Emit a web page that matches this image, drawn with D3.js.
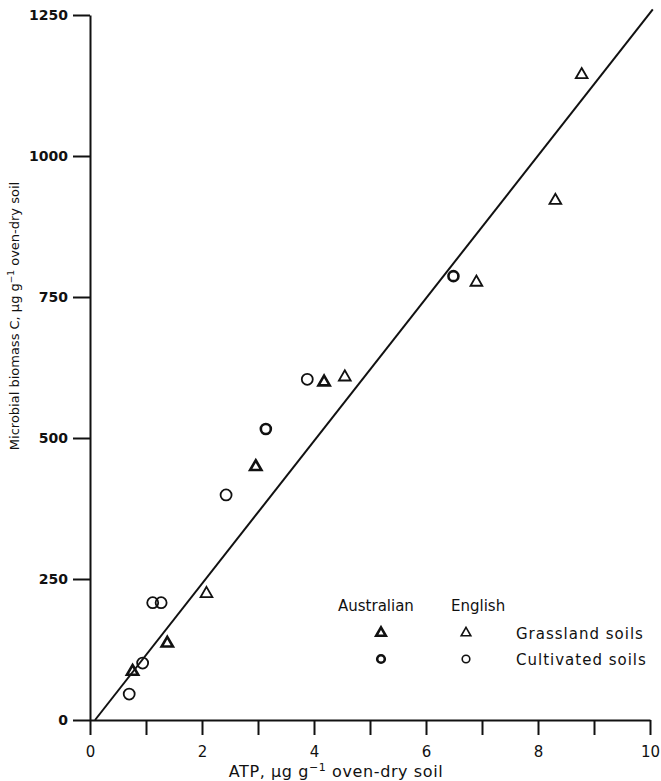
<!DOCTYPE html>
<html>
<head>
<meta charset="utf-8">
<script src="https://d3js.org/d3.v7.min.js"></script>
<style>
  body { margin: 0; background: #fff; }
  text { font-family: "DejaVu Sans", sans-serif; fill: #111; }
</style>
</head>
<body>
<div id="chart"></div>
<script>
// values (ATP ug/g, biomass C ug/g)
var ausGrass = [[0.76, 86], [1.38, 136], [2.96, 449], [4.18, 599]];
var engGrass = [[2.08, 224], [4.55, 608], [6.90, 776], [8.31, 921], [8.78, 1144]];
var ausCult = [[3.14, 516], [6.49, 787]];
var engCult = [[0.70, 46], [0.94, 101], [1.12, 208], [1.27, 208], [2.43, 399], [3.88, 604]];
var fitLine = [[0.09, 0], [10.05, 1260]];

var xTicks = [0, 1, 2, 3, 4, 5, 6, 7, 8, 9, 10];
var yTicks = [0, 250, 500, 750, 1000, 1250];

var w = 661, h = 781;
var x = d3.scaleLinear().domain([0, 10]).range([90, 650]);
var y = d3.scaleLinear().domain([0, 1250]).range([720, 15]);

var svg = d3.select('#chart').append('svg').attr('width', w).attr('height', h);

// axes
var xAxis = d3.axisBottom(x).tickValues(xTicks).tickSize(15).tickSizeOuter(0).tickPadding(11)
    .tickFormat(function (d) { return d % 2 == 0 ? d : ''; });
var gx = svg.append('g').attr('transform', 'translate(0,' + y(0) + ')').call(xAxis);
gx.selectAll('text').style('font-size', '15px');

var yAxis = d3.axisLeft(y).tickValues(yTicks).tickSize(17).tickSizeOuter(0).tickPadding(5)
    .tickFormat(d3.format('d'));
var gy = svg.append('g').attr('transform', 'translate(' + x(0) + ',0)').call(yAxis);
gy.selectAll('text').style('font-size', '14px').style('font-weight', 'bold');

svg.selectAll('.domain, .tick line').attr('stroke', '#111').attr('stroke-width', 2);

// axis titles
svg.append('text').attr('x', 336).attr('y', 777).attr('text-anchor', 'middle')
    .style('font-size', '16px').style('letter-spacing', '0.6px')
    .html('ATP, µg g<tspan dy="-6" font-size="11">−1</tspan><tspan dy="6"> oven-dry soil</tspan>');

svg.append('text').attr('transform', 'translate(19,316) rotate(-90)').attr('text-anchor', 'middle')
    .style('font-size', '13px')
    .html('Microbial biomass C, µg g<tspan dy="-5" font-size="9">−1</tspan><tspan dy="5"> oven-dry soil</tspan>');

// regression line
svg.append('path').datum(fitLine)
    .attr('d', d3.line().x(function (d) { return x(d[0]); }).y(function (d) { return y(d[1]); }))
    .attr('fill', 'none').attr('stroke', '#111').attr('stroke-width', 2);

var tri = d3.symbol().type(d3.symbolTriangle);

function drawTri(data, size, sw) {
    svg.append('g').selectAll('path').data(data).enter().append('path')
        .attr('transform', function (d) { return 'translate(' + x(d[0]) + ',' + y(d[1]) + ')'; })
        .attr('d', tri.size(size)())
        .attr('fill', 'none').attr('stroke', '#111').attr('stroke-width', sw);
}
function drawCirc(data, r, sw) {
    svg.append('g').selectAll('circle').data(data).enter().append('circle')
        .attr('cx', function (d) { return x(d[0]); })
        .attr('cy', function (d) { return y(d[1]); })
        .attr('r', r)
        .attr('fill', 'none').attr('stroke', '#111').attr('stroke-width', sw);
}

drawTri(engGrass, 60, 1.8);
drawTri(ausGrass, 55, 2.6);
drawCirc(engCult, 5.5, 1.8);
drawCirc(ausCult, 5, 2.6);

// legend
var lg = svg.append('g');
lg.append('text').attr('x', 338).attr('y', 611).style('font-size', '15px').text('Australian');
lg.append('text').attr('x', 451).attr('y', 611).style('font-size', '15px').text('English');
lg.append('path').attr('transform', 'translate(381,633)').attr('d', tri.size(40)())
    .attr('fill', 'none').attr('stroke', '#111').attr('stroke-width', 2.6);
lg.append('path').attr('transform', 'translate(466,633)').attr('d', tri.size(40)())
    .attr('fill', 'none').attr('stroke', '#111').attr('stroke-width', 1.6);
lg.append('circle').attr('cx', 381).attr('cy', 659).attr('r', 3.8)
    .attr('fill', 'none').attr('stroke', '#111').attr('stroke-width', 2.6);
lg.append('circle').attr('cx', 466).attr('cy', 659).attr('r', 3.8)
    .attr('fill', 'none').attr('stroke', '#111').attr('stroke-width', 1.6);
lg.append('text').attr('x', 516).attr('y', 639).style('font-size', '15px').style('letter-spacing', '1px').text('Grassland soils');
lg.append('text').attr('x', 516).attr('y', 665).style('font-size', '15px').style('letter-spacing', '1px').text('Cultivated soils');
</script>
</body>
</html>
